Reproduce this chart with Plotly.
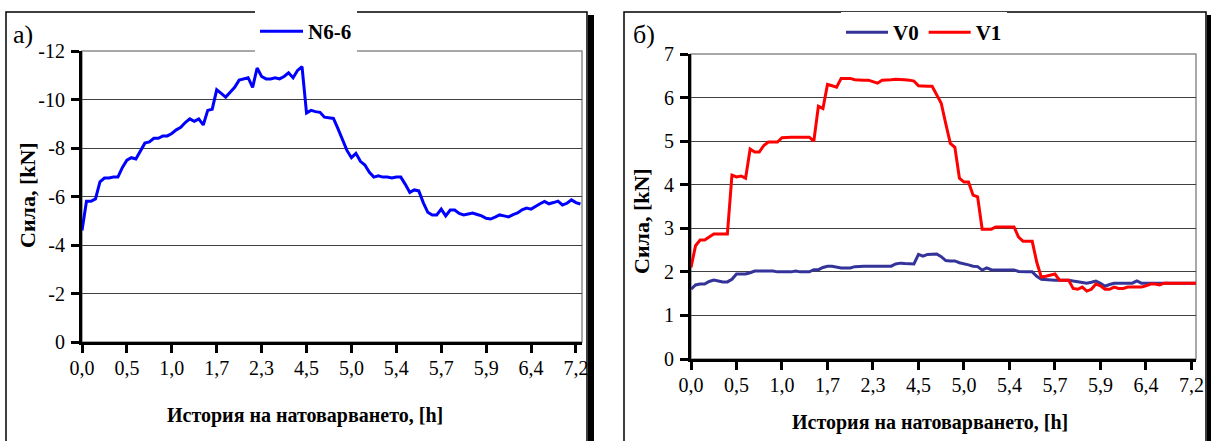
import plotly.graph_objects as go

W, H = 1211, 441

# tick labels along the category axis (every 10 samples)
tick_labels = ["0,0", "0,5", "1,0", "1,7", "2,3", "4,5", "5,0", "5,4", "5,7", "5,9", "6,4", "7,2"]
# value-axis ticks of panel a) (reversed axis, labels with plain hyphen)
a_ticks = [0, -2, -4, -6, -8, -10, -12]
a_tick_text = ["0", "-2", "-4", "-6", "-8", "-10", "-12"]

# a) N6-6 force, kN
n66 = [-4.6, -5.8, -5.8, -5.9, -6.6, -6.76, -6.76, -6.8, -6.8, -7.2,
       -7.5, -7.6, -7.55, -7.9, -8.2, -8.25, -8.4, -8.4, -8.5, -8.5,
       -8.6, -8.75, -8.85, -9.05, -9.2, -9.1, -9.2, -8.95, -9.55, -9.6,
       -10.4, -10.25, -10.1, -10.3, -10.5, -10.8, -10.85, -10.9, -10.5, -11.3,
       -10.95, -10.85, -10.85, -10.9, -10.85, -10.95, -11.1, -10.9, -11.2, -11.35,
       -9.44, -9.55, -9.5, -9.47, -9.27, -9.25, -9.22, -8.8, -8.35, -7.9,
       -7.6, -7.78, -7.45, -7.3, -7.0, -6.8, -6.85, -6.8, -6.8, -6.76,
       -6.8, -6.8, -6.5, -6.17, -6.27, -6.23, -5.75, -5.35, -5.24, -5.24,
       -5.48, -5.2, -5.44, -5.44, -5.3, -5.24, -5.28, -5.32, -5.26, -5.2,
       -5.1, -5.07, -5.15, -5.24, -5.2, -5.16, -5.25, -5.32, -5.45, -5.52,
       -5.48, -5.6, -5.7, -5.8, -5.7, -5.75, -5.81, -5.65, -5.72, -5.86,
       -5.75, -5.69]

# б) V0 and V1 forces, kN
v0 = [1.6, 1.7, 1.72, 1.72, 1.78, 1.81, 1.79, 1.77, 1.77, 1.83,
      1.95, 1.95, 1.95, 1.98, 2.02, 2.02, 2.02, 2.02, 2.02, 2.0,
      2.0, 2.0, 2.0, 2.02, 2.0, 2.0, 2.0, 2.05, 2.05, 2.1,
      2.13, 2.13, 2.11, 2.09, 2.09, 2.09, 2.12, 2.13, 2.13, 2.13,
      2.13, 2.13, 2.13, 2.13, 2.13, 2.18, 2.2, 2.19, 2.18, 2.18,
      2.4, 2.36, 2.4, 2.41, 2.41, 2.35, 2.26, 2.25, 2.25, 2.21,
      2.19, 2.16, 2.13, 2.12, 2.04, 2.09, 2.05, 2.04, 2.04, 2.04,
      2.04, 2.04, 2.01, 2.0, 2.0, 2.0, 1.9, 1.83, 1.82, 1.82,
      1.81, 1.81, 1.81, 1.81, 1.79, 1.77, 1.76, 1.74, 1.76, 1.79,
      1.74, 1.67, 1.71, 1.74, 1.74, 1.74, 1.74, 1.74, 1.79, 1.74,
      1.74, 1.74, 1.74, 1.74, 1.74, 1.74, 1.74, 1.74, 1.74, 1.74,
      1.74, 1.74]
v1 = [2.1, 2.6, 2.73, 2.73, 2.8, 2.87, 2.87, 2.87, 2.87, 4.22,
      4.18, 4.2, 4.15, 4.82, 4.75, 4.75, 4.9, 4.98, 4.98, 4.98,
      5.08, 5.09, 5.09, 5.09, 5.09, 5.09, 5.09, 5.0, 5.8, 5.75,
      6.3, 6.27, 6.24, 6.44, 6.44, 6.44, 6.41, 6.4, 6.4, 6.4,
      6.36, 6.33, 6.4, 6.4, 6.41, 6.42, 6.42, 6.41, 6.4, 6.38,
      6.27, 6.26, 6.26, 6.26, 6.05, 5.87, 5.4, 4.95, 4.86, 4.15,
      4.06, 4.06, 3.76, 3.72, 2.98, 2.98, 2.98, 3.03, 3.03, 3.03,
      3.03, 3.03, 2.8, 2.7, 2.7, 2.7, 2.22, 1.88, 1.9, 1.92,
      1.95, 1.81, 1.81, 1.81, 1.62, 1.6, 1.65, 1.56, 1.6, 1.72,
      1.68, 1.6, 1.6, 1.65, 1.62, 1.62, 1.65, 1.65, 1.65, 1.65,
      1.68, 1.72, 1.72, 1.7, 1.74, 1.74, 1.74, 1.74, 1.74, 1.74,
      1.74, 1.74]

idx = list(range(len(n66)))
tick_pos = [i * 10 for i in range(len(tick_labels))]

SERIF = "Liberation Serif"


def px_x(p):
    return p / W


def px_y(p):
    return 1 - p / H


fig = go.Figure()
fig.add_trace(go.Scatter(x=idx, y=n66, mode="lines", name="N6-6",
                         line=dict(color="#0000FF", width=3), xaxis="x", yaxis="y",
                         legend="legend"))
fig.add_trace(go.Scatter(x=idx, y=v0, mode="lines", name="V0",
                         line=dict(color="#333399", width=3), xaxis="x2", yaxis="y2",
                         legend="legend2"))
fig.add_trace(go.Scatter(x=idx, y=v1, mode="lines", name="V1",
                         line=dict(color="#FF0000", width=3), xaxis="x2", yaxis="y2",
                         legend="legend2"))

tickfont = dict(family=SERIF, size=20, color="black")
common_x = dict(tickmode="array", tickvals=tick_pos, ticktext=tick_labels,
                showgrid=False, zeroline=False, showline=True, linecolor="black",
                linewidth=3, ticks="outside", ticklen=8, tickwidth=3, tickcolor="black",
                tickfont=tickfont, ticklabelstandoff=-2, fixedrange=True, automargin=False)
common_y = dict(showgrid=True, gridcolor="#404040", gridwidth=1, zeroline=False,
                showline=True, linecolor="black", linewidth=3, ticks="outside",
                ticklen=8, tickwidth=3, tickcolor="black", tickfont=tickfont,
                ticklabelstandoff=2, fixedrange=True, automargin=False)

legend_font = dict(family=SERIF, size=21, color="black", weight="bold")
fig.update_layout(
    width=W, height=H, margin=dict(l=0, r=0, t=0, b=0, autoexpand=False),
    paper_bgcolor="white", plot_bgcolor="white",
    font=dict(family=SERIF, color="black"),
    xaxis=dict(domain=[px_x(82), px_x(582)], range=[0, 111.35], anchor="y", **common_x),
    yaxis=dict(domain=[px_y(342), px_y(51)], range=[0, -12], tickmode="array",
               tickvals=a_ticks, ticktext=a_tick_text, anchor="x", **common_y),
    xaxis2=dict(domain=[px_x(691), px_x(1196)], range=[0, 111.0], anchor="y2", **common_x),
    yaxis2=dict(domain=[px_y(359), px_y(54)], range=[0, 7], dtick=1, anchor="x2", **common_y),
    legend=dict(x=px_x(255), y=px_y(52), xanchor="left", yanchor="bottom",
                orientation="h", bgcolor="white", borderwidth=0,
                font=legend_font, itemwidth=43),
    legend2=dict(x=px_x(841), y=px_y(53), xanchor="left", yanchor="bottom",
                 orientation="h", bgcolor="white", borderwidth=0,
                 font=legend_font, itemwidth=42),
    showlegend=True,
)

shapes = []
# outer frames with shadow
for (x0, x1) in [(6, 587), (624, 1206)]:
    shapes.append(dict(type="rect", xref="paper", yref="paper",
                       x0=px_x(x0), x1=px_x(x1), y0=px_y(448), y1=px_y(12),
                       line=dict(color="black", width=1.5), fillcolor="rgba(0,0,0,0)",
                       layer="below"))
shapes.append(dict(type="rect", xref="paper", yref="paper", x0=px_x(588), x1=px_x(594),
                   y0=px_y(448), y1=px_y(15), line=dict(width=0), fillcolor="black"))
shapes.append(dict(type="rect", xref="paper", yref="paper", x0=px_x(1207), x1=px_x(1212),
                   y0=px_y(448), y1=px_y(15), line=dict(width=0), fillcolor="black"))
# plot-area borders (grey)
shapes.append(dict(type="rect", xref="x domain", yref="y domain", x0=0, x1=1, y0=0, y1=1,
                   line=dict(color="#8c8c8c", width=1.5), layer="below"))
shapes.append(dict(type="rect", xref="x2 domain", yref="y2 domain", x0=0, x1=1, y0=0, y1=1,
                   line=dict(color="#8c8c8c", width=1.5), layer="below"))
fig.update_layout(shapes=shapes)

title_font = dict(family=SERIF, size=20, color="black", weight="bold")
ytitle_font = dict(family=SERIF, size=22, color="black", weight="bold")
ann = [
    dict(text="a)", x=px_x(11), y=px_y(34), xanchor="left", yanchor="middle",
         font=dict(family=SERIF, size=26, color="black")),
    dict(text="б)", x=px_x(631), y=px_y(34), xanchor="left", yanchor="middle",
         font=dict(family=SERIF, size=26, color="black")),
    dict(text="Сила, [kN]", x=px_x(27), y=px_y(195), textangle=-90,
         xanchor="center", yanchor="middle", font=ytitle_font),
    dict(text="Сила, [kN]", x=px_x(642), y=px_y(221), textangle=-90,
         xanchor="center", yanchor="middle", font=ytitle_font),
    dict(text="История на натоварването, [h]", x=px_x(305), y=px_y(415),
         xanchor="center", yanchor="middle", font=title_font),
    dict(text="История на натоварването, [h]", x=px_x(930), y=px_y(422),
         xanchor="center", yanchor="middle", font=title_font),
]
for a in ann:
    a.update(xref="paper", yref="paper", showarrow=False)
fig.update_layout(annotations=ann)

fig.write_html("out.html")
